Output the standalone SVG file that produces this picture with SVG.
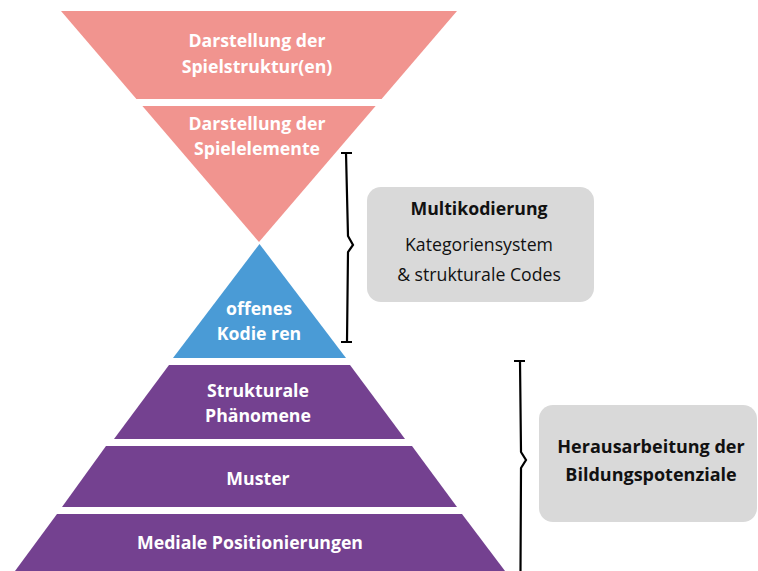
<svg xmlns="http://www.w3.org/2000/svg" width="758" height="571" viewBox="0 0 758 571">
<style>
.salmon{fill:#F1948F}
.blue{fill:#4A9BD6}
.purple{fill:#744190}
.box{fill:#D9D9D9}
.lbl{font-family:"Open Sans","Noto Sans",sans-serif;font-weight:700;font-size:17.7px;fill:#ffffff;text-anchor:middle}
.bt{font-family:"Open Sans","Noto Sans",sans-serif;font-size:17.7px;fill:#111111;text-anchor:middle}
.b{font-weight:700}
.br{fill:none;stroke:#000000;stroke-width:2.2;stroke-linecap:butt;stroke-linejoin:miter}
</style>
<rect width="758" height="571" fill="#ffffff"/>
<g id="spielstruktur">
<polygon class="salmon" points="61,11 457,11 381.6,99 136.4,99"/>
<text class="lbl" x="257" y="47">Darstellung der</text>
<text class="lbl" x="257" y="73">Spielstruktur(en)</text>
</g>
<g id="spielelemente">
<polygon class="salmon" points="142.4,106 375.6,106 259,242"/>
<text class="lbl" x="257" y="130">Darstellung der</text>
<text class="lbl" x="257" y="155">Spielelemente</text>
</g>
<g id="offenes-kodieren">
<polygon class="blue" points="259.5,244 346,358 173,358"/>
<text class="lbl" x="259" y="315">offenes</text>
<text class="lbl" x="259" y="340">Kodie ren</text>
</g>
<g id="strukturale-phaenomene">
<polygon class="purple" points="169,365 350,365 405,439 114,439"/>
<text class="lbl" x="258" y="397">Strukturale</text>
<text class="lbl" x="258" y="422">Phänomene</text>
</g>
<g id="muster">
<polygon class="purple" points="106,446 412,446 457,507 62,507"/>
<text class="lbl" x="258" y="485">Muster</text>
</g>
<g id="mediale-positionierungen">
<polygon class="purple" points="57,514 462,514 505,571 15,571"/>
<text class="lbl" x="250" y="549">Mediale Positionierungen</text>
</g>
<g id="multikodierung">
<rect class="box" x="367" y="187" width="227" height="115" rx="14"/>
<text class="bt b" x="479" y="215">Multikodierung</text>
<text class="bt" x="479" y="251">Kategoriensystem</text>
<text class="bt" x="479" y="281">&amp; strukturale Codes</text>
</g>
<g id="bildungspotenziale">
<rect class="box" x="539" y="405" width="218" height="117" rx="14"/>
<text class="bt b" x="651" y="453" style="font-size:18px">Herausarbeitung der</text>
<text class="bt b" x="651" y="481" style="font-size:18px">Bildungspotenziale</text>
</g>
<g id="connectors">
<path class="br" d="M341,153 H352 M346,153 L348,236 L353,245 L348,252 L347,342 M341,342 H352"/>
<path class="br" d="M514,361 H525 M520,361 L521,452 L526,460 L521,468 L520.5,571"/>
</g>
</svg>
